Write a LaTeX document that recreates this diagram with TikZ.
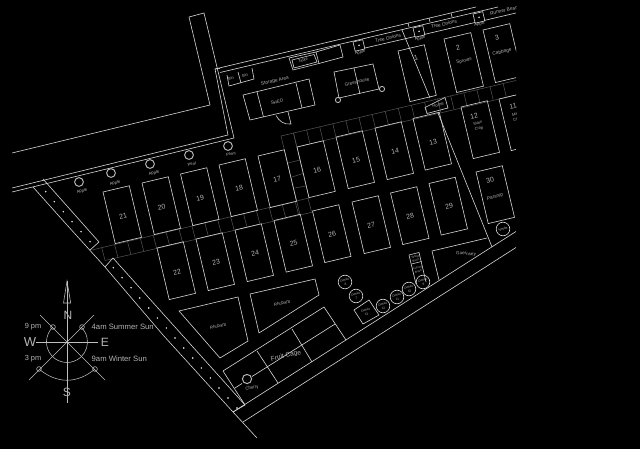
\documentclass[tikz,border=0pt]{standalone}
\usepackage{fontspec}
\setmainfont{Liberation Sans}
\newcounter{lb}
\definecolor{lineW}{HTML}{D8D8D8}
\definecolor{dimL}{HTML}{505050}
\definecolor{txtC}{HTML}{B4B4B4}
\definecolor{cmpC}{HTML}{BEBEBE}
\tikzset{
  wl/.style={draw=lineW,line width=0.6pt,line join=miter},
  dl/.style={draw=dimL,line width=0.55pt},
  cl/.style={draw=cmpC,line width=0.55pt},
  ax/.style={draw=cmpC,line width=1pt},
  txt/.style={text=txtC,inner sep=0pt,align=center},
}
\newcommand\lab[5]{\stepcounter{lb}\pgfmathsetmacro\lsk{#4*1.3}\node[txt,rotate=#3,font=\fontsize{#4}{\lsk}\selectfont] (lb\thelb) at (#1,#2) {#5};}
% bed: x y height width
\newcommand\bed[4]{\draw[wl] (#1,#2) -- ++(0.973*#4,-0.231*#4) -- ++(0.231*#3,0.973*#3) -- ++(-0.973*#4,0.231*#4) -- cycle;}
\begin{document}
\begin{tikzpicture}[x=1pt,y=-1pt]
\useasboundingbox (0,0) rectangle (640,449);
\fill[black] (0,0) rectangle (640,449);
\begin{scope}
\clip (0,6.5) rectangle (516,449);
% dim paving bands
\foreach \k in {0,...,16} \draw[dl] ({101.7+12.9*\k},{247.7-3.06*\k}) -- ++(3.3,12.5);
\draw[dl] (92,250) -- (309,198);
\draw[dl] (105,260.5) -- (313,212);
\foreach \k in {0,...,17} \draw[dl] ({293.5+13.1*\k},{133-3.1*\k}) -- ++(3.1,13);
\draw[dl] (281,136) -- (516,80.5);
\draw[dl] (297,147) -- (516,95);
\draw[dl] (281,136) -- (297,202);
\draw[dl] (293.5,133) -- (309,198);
\draw[dl] (288,163) -- (300,160);
\draw[dl] (292,177) -- (303,173.5);
\draw[dl] (295,188) -- (306,186);
\draw[dl] (297,202) -- (300,215);
% wall
\draw[wl] (12,153) -- (210,105) -- (189,17) -- (204,13) -- (234,138) -- (12,192);
\draw[wl] (12,188) -- (228,135) -- (215,69) -- (476,7);
\draw[wl] (215,69) -- (220,68.5);
\draw[wl] (220,72.5) -- (498,7);
\foreach \a/\b in {408/23,429/18,451/13} \draw[wl] (\a,\b) -- ++(1,4);
% left boundary
\draw[wl] (33,187) -- (67,225) -- (105,267) -- (163,335) -- (233,412) -- (257,438);
\draw[wl] (43,179) -- (99,242) -- (90,250);
\draw[wl] (105,267) -- (113,258) -- (245,405) -- (233,412);
\foreach \a/\b in {45.7/191.7,54.3/201.7,63.3/211.7,72/221.7,81/231.7,90/241.7,113.3/267.7,122/277.7,131/287.7,139.7/298,148.7/308,157.3/318,166.3/328,175/338,183.7/348,192.7/358,201.3/368,210.3/378,219/388,228/398,237/408}
  \fill[white] (\a,\b) circle (0.8);
% trees
\foreach \a/\b in {79/182,111/173,150/164,189/155,228/146} \draw[draw=txtC,line width=1pt] (\a,\b) circle (4.4);
\lab{82}{191}{13}{4.2}{Apple}
\lab{115}{183}{13}{4.2}{Apple}
\lab{154}{173}{13}{4.2}{Apple}
\lab{192}{164}{13}{4.2}{Pear}
\lab{231}{154}{13}{4.2}{Plum}
% beds
\bed{103}{192}{53}{27}
\bed{142}{183}{53}{27}
\bed{180.5}{174}{53}{27}
\bed{219}{165}{53}{27}
\bed{258}{156}{53}{27}
\bed{297}{147}{52}{27}
\bed{336}{137}{53}{27}
\bed{375}{128}{53}{27}
\bed{413}{118.5}{53}{27}
\bed{157}{248}{53}{27}
\bed{196}{239}{53}{27}
\bed{235}{230}{53}{27}
\bed{274}{220.5}{53}{27}
\bed{312.5}{211}{53}{27}
\bed{352}{202}{53}{27}
\bed{390.5}{193}{53}{27}
\bed{429}{183.5}{53}{27}
\bed{398}{51}{52}{27}
\bed{444}{39}{55}{27.5}
\bed{483}{30}{54}{27.5}
\bed{461}{107}{53}{27}
\bed{499}{99}{53}{27}
\bed{476}{172}{53}{27}
\lab{123}{216}{13}{7}{21}
\lab{161.5}{207}{13}{7}{20}
\lab{200}{198}{13}{7}{19}
\lab{239}{188}{13}{7}{18}
\lab{277}{179}{13}{7}{17}
\lab{317}{170}{13}{7}{16}
\lab{356}{160}{13}{7}{15}
\lab{395}{151}{13}{7}{14}
\lab{433}{142}{13}{7}{13}
\lab{177}{272}{13}{7}{22}
\lab{216}{262}{13}{7}{23}
\lab{255}{253}{13}{7}{24}
\lab{293.5}{243.5}{13}{7}{25}
\lab{332}{234}{13}{7}{26}
\lab{371}{225}{13}{7}{27}
\lab{410}{216}{13}{7}{28}
\lab{449}{206}{13}{7}{29}
\lab{416}{58}{13}{7}{1}
\lab{458}{48}{13}{7}{2}
\lab{497}{38}{13}{7}{3}
\lab{474}{116}{13}{7}{12}
\lab{513}{106}{13}{7}{11}
\lab{490}{180}{13}{7}{30}
\lab{464}{61}{13}{4.6}{Sprouts}
\lab{502}{52}{13}{4.8}{Cabbage}
\lab{478.5}{126}{13}{4}{Main\\Crop}
\lab{517}{117}{13}{4}{Main\\Crop}
\lab{495}{197}{13}{4.8}{Parsnip}
% top strip
\draw[wl] (365,48) -- (415,36.5);
\draw[wl] (424,34.5) -- (475,22.5);
\draw[wl] (484,20.5) -- (516,13);
\foreach \a/\b in {353/42,413/28,473/14} {
  \draw[wl] (\a,\b) -- ++(9.7,-2.3) -- ++(2.2,9.2) -- ++(-9.7,2.3) -- cycle;
  \fill[white] (\a+6,\b+3.3) circle (0.8);
}
\lab{360}{52.5}{13}{4.2}{Apple}
\lab{420}{38.5}{13}{4.2}{Apple}
\lab{479.5}{24}{13}{4.2}{Apple}
\lab{388}{38}{13}{4.8}{Tree Onions}
\lab{444}{24}{13}{4.8}{Tree Onions}
\lab{504}{10.5}{13}{4.8}{Runner Bean}
% diagonal
\draw[wl] (402,30) -- (430,98);
\draw[wl] (438,113) -- (492,247);
% Rome
\draw[wl] (425,107.5) -- (445,97.5) -- (448,108) -- (427,113.5) -- cycle;
\lab{438}{105}{13}{4.4}{Rome}
% table & storage
\draw[wl] (289,58) -- (316,52) -- (319,63.5) -- (293,70) -- cycle;
\draw[wl] (292,60) -- (314,54.5) -- (317,62) -- (294,68) -- cycle;
\draw[wl] (316,52) -- (340,45);
\draw[wl] (319,63.5) -- (343,57) -- (340,45);
\lab{303}{60}{13}{4}{Table}
\draw[wl] (227,75) -- (229,86) -- (254,79) -- (252,68);
\draw[wl] (238,72) -- (241,83);
\lab{231}{78.5}{13}{4}{Bin}
\lab{245}{75}{13}{4}{Bin}
\lab{275}{81}{13}{4.8}{Storage Area}
\draw[wl] (243,95) -- (309,79) -- (315,105) -- (250,120) -- cycle;
\draw[wl] (257,92) -- (263.5,117);
\draw[wl] (296,83) -- (302,108);
\lab{277}{102}{13}{4.5}{SHED}
\draw[wl] (288,112) -- (291,124) .. controls (284,125) and (279,121) .. (276,115.5);
% greenhouse
\draw[wl] (334,72) -- (373,64) -- (379,89) -- (339,98) -- cycle;
\draw[wl] (354,68) -- (360,94);
\lab{357}{82}{13}{4.6}{Greenhouse}
\foreach \a/\b in {338/100,382/89} \draw[draw=txtC,line width=0.9pt] (\a,\b) circle (2.6);
% bottom boundaries
\draw[wl] (233,412) -- (516,231.5);
\draw[wl] (243,422) -- (516,247.5);
% fruit cage
\draw[wl] (223,371) -- (324,307) -- (346,340);
\draw[wl] (223,371) -- (245,405);
\draw[wl] (235,388) -- (242,383.5);
\draw[wl] (252,376.5) -- (335,324);
\draw[wl] (257,351) -- (278,383);
\draw[wl] (292,329) -- (312,362);
\draw[draw=txtC,line width=1pt] (247,379) circle (4.6);
\lab{252}{388}{12}{4.4}{Cherry}
\lab{286}{356}{13}{6.6}{Fruit Cage}
% rhubarb
\draw[wl] (179,311) -- (238,297) -- (248,341) -- (220,358) -- cycle;
\draw[wl] (250,294) -- (315,279) -- (319,295) -- (259,333) -- cycle;
\lab{218}{326}{13}{4.3}{Rhubarb}
\lab{282}{303}{13}{4.3}{Rhubarb}
% dahlias
\foreach \a/\b/\t in {345/282/{Dahlia\\8},356/296/{Dahlia\\7},383/306/{Dahlia\\12},397/297/{Dahlia\\11},409/289/{Dahlia\\10},423/282/{Dahlia\\9}} {
  \draw[wl] (\a,\b) circle (6.8);
  \lab{\a}{\b}{13}{3.1}{\t}
}
\draw[wl] (354,310) -- (369,300) -- (379,315) -- (363,324) -- cycle;
\lab{366}{312}{13}{3.1}{Dahlia\\13}
\draw[wl] (409,255) -- (419,252.5) -- (426,282);
\draw[wl] (409,255) -- (416,284);
\draw[wl] (411.5,264) -- (421.5,261.5);
\lab{415.5}{258.5}{13}{2.9}{Yellow\\Bush}
\lab{418}{269.5}{13}{2.9}{Currant\\Bush}
% guernsey
\draw[wl] (439,280) -- (432,251) -- (487,238);
\lab{466}{254}{-6}{4.6}{Guernsey}
\draw[wl] (503,229) circle (6.8);
\lab{503}{229}{13}{3.4}{Nettle}
\end{scope}
% compass
\coordinate (cc) at (67,342);
\draw[cl] (40,315) -- (105,380);
\draw[cl] (94,315) -- (29,380);
\draw[ax] (36,342) -- (98,342);
\draw[ax] (67,281) -- (67,402.5);
\draw[cl] (63.5,303) -- (67,281) -- (70.7,303) -- cycle;
\draw[cl] (53,327) arc[start angle=227,end angle=-47,radius=20.5];
\draw[cl] (39,369) .. controls (57,384) and (77,384) .. (95,369);
\foreach \a/\b in {53/327,82/327,39/369,95/369} {
  \draw[cl] (\a,\b) circle (2.4);
}
\lab{68}{315}{0}{12}{N}
\lab{30}{342}{0}{13}{W}
\lab{105}{342}{0}{12}{E}
\lab{67}{392}{0}{12}{S}
\lab{33}{327}{0}{7.4}{9 pm}
\lab{33}{359}{0}{7.4}{3 pm}
\node[txt,anchor=west,font=\fontsize{7.7}{8}\selectfont] (sumsun) at (91.5,327) {4am Summer Sun};
\node[txt,anchor=west,font=\fontsize{7.7}{8}\selectfont] (winsun) at (91.5,359) {9am Winter Sun};
\end{tikzpicture}
\end{document}
